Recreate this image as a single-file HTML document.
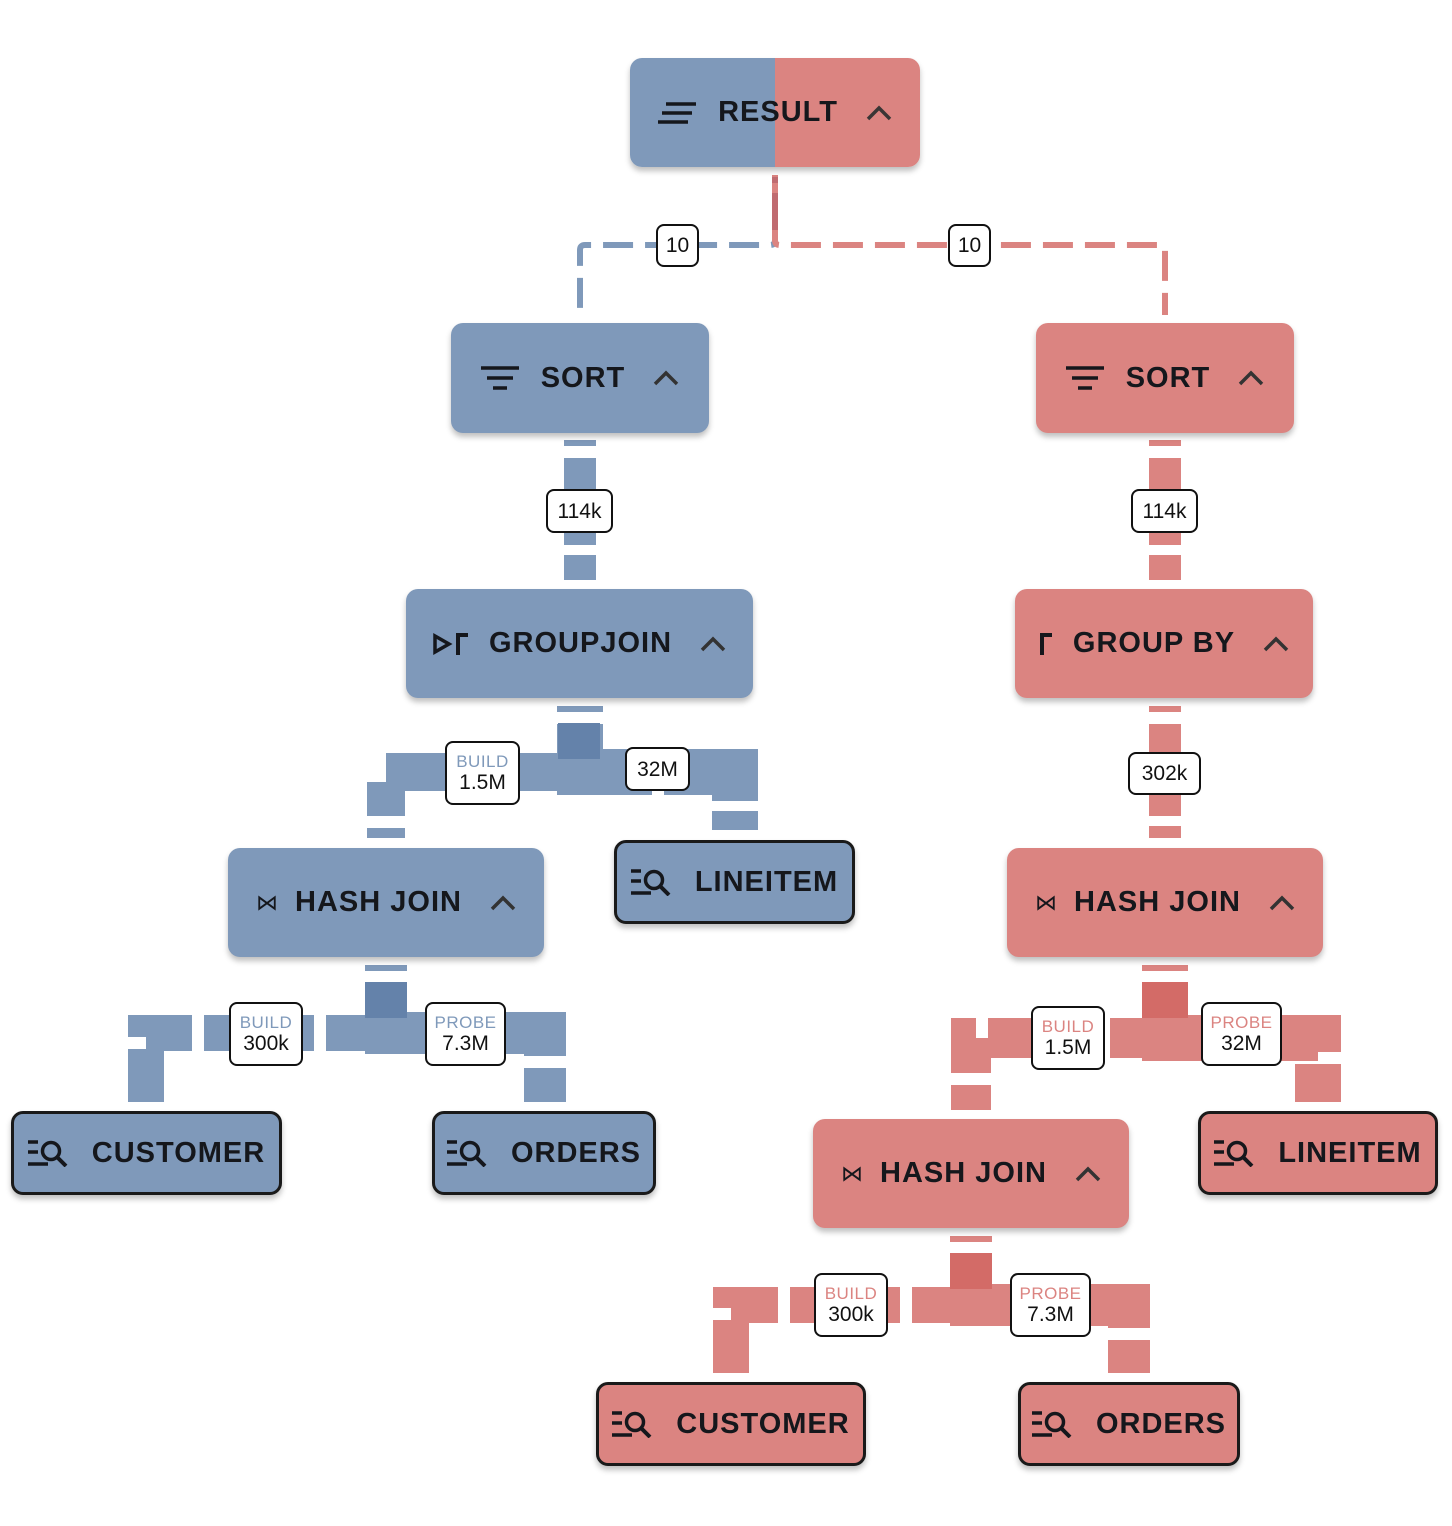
<!DOCTYPE html>
<html><head><meta charset="utf-8"><style>
html,body{margin:0;padding:0;background:#fff;}
body{width:1452px;height:1526px;position:relative;overflow:hidden;font-family:"Liberation Sans",sans-serif;}
.n{position:absolute;box-sizing:border-box;border-radius:12px;display:flex;align-items:center;justify-content:center;font-weight:bold;font-size:29px;color:#15171c;letter-spacing:1px;box-shadow:0 4px 6px rgba(0,0,0,0.25);}
.b{background:#7f99ba;}
.r{background:#db8481;}
.s{border:3px solid #1a1a1a;}
.n svg{margin-right:20px;fill:none;}
.n .ch{margin-left:28px;margin-right:0;}
.l{position:absolute;box-sizing:border-box;background:#fff;border:2px solid #111;border-radius:8px;display:flex;flex-direction:column;align-items:center;justify-content:center;font-size:21px;color:#111;line-height:23px;}
.l small{font-size:17px;line-height:18px;letter-spacing:0.5px;}
.lb small{color:#7f99ba}.lr small{color:#db8481}
svg.e{position:absolute;left:0;top:0;}
</style></head><body>
<svg class="e" width="1452" height="1526" viewBox="0 0 1452 1526" fill="none" stroke-linecap="butt">
<path d="M775,175 V240 Q775,245 770,245 H585 Q580,245 580,250 V315" stroke="#7f99ba" stroke-width="6" stroke-dasharray="30 12"/>
<path d="M775,175 V240 Q775,245 780,245 H1160 Q1165,245 1165,250 V315" stroke="#db8481" stroke-width="6" stroke-dasharray="30 12"/>
<path d="M775,177 V230" stroke="#c06b70" stroke-width="6" stroke-dasharray="6 10 40"/>
<path d="M580,440 V580" stroke="#7f99ba" stroke-width="32" stroke-dasharray="6 12 87 10 200"/>
<path d="M1165,440 V580" stroke="#db8481" stroke-width="32" stroke-dasharray="6 12 87 10 200"/>
<path d="M1165,706 V838" stroke="#db8481" stroke-width="32" stroke-dasharray="6 12 92 10 200"/>
<path d="M580,706 V772 H386 V838" stroke="#7f99ba" stroke-width="38" stroke-dasharray="6 12 110 12 120 10 34 12 200"/>
<path d="M580,706 V772 H735 V830" stroke="#7f99ba" stroke-width="46" stroke-dasharray="6 12 120 12 100 10 200"/>
<rect x="558" y="723" width="42" height="36" fill="#6482aa"/>
<path d="M386,965 V1033 H146 V1102" stroke="#7f99ba" stroke-width="36" stroke-dasharray="6 12 110 12 110 12 50 12 200"/>
<path d="M386,965 V1033 H545 V1102" stroke="#7f99ba" stroke-width="42" stroke-dasharray="6 12 120 12 100 12 200"/>
<rect x="365" y="982" width="42" height="36" fill="#6482aa"/>
<path d="M1165,965 V1038 H971 V1110" stroke="#db8481" stroke-width="40" stroke-dasharray="6 12 110 12 110 12 40 12 200"/>
<path d="M1165,965 V1038 H1318 V1102" stroke="#db8481" stroke-width="46" stroke-dasharray="6 12 110 12 100 12 200"/>
<rect x="1142" y="982" width="46" height="36" fill="#d36b67"/>
<path d="M971,1236 V1305 H731 V1373" stroke="#db8481" stroke-width="36" stroke-dasharray="6 12 110 12 110 12 50 12 200"/>
<path d="M971,1236 V1305 H1129 V1373" stroke="#db8481" stroke-width="42" stroke-dasharray="6 12 120 12 100 12 200"/>
<rect x="950" y="1253" width="42" height="36" fill="#d36b67"/>
</svg>

<div class="n" style="left:630px;top:58px;width:290px;height:109px;background:linear-gradient(90deg,#7f99ba 0,#7f99ba 145px,#db8481 145px);">
<svg width="40" height="24" viewBox="0 0 40 24"><path d="M8 3H38M4 12H34M0 21H30" stroke="#15171c" stroke-width="3.5"/></svg>RESULT<svg class="ch" width="26" height="16" viewBox="0 0 26 16"><path d="M2 14L13 3L24 14" stroke="#3a3535" stroke-width="3.5"/></svg></div>

<div class="n b" style="left:451px;top:323px;width:258px;height:110px;"><svg width="40" height="26" viewBox="0 0 40 26"><path d="M0 3H38M6 13H32M12 23H26" stroke="#15171c" stroke-width="3.5"/></svg>SORT<svg class="ch" width="26" height="16" viewBox="0 0 26 16"><path d="M2 14L13 3L24 14" stroke="#333" stroke-width="3.5"/></svg></div>
<div class="n r" style="left:1036px;top:323px;width:258px;height:110px;"><svg width="40" height="26" viewBox="0 0 40 26"><path d="M0 3H38M6 13H32M12 23H26" stroke="#15171c" stroke-width="3.5"/></svg>SORT<svg class="ch" width="26" height="16" viewBox="0 0 26 16"><path d="M2 14L13 3L24 14" stroke="#333" stroke-width="3.5"/></svg></div>

<div class="n b" style="left:406px;top:589px;width:347px;height:109px;"><svg width="36" height="22" viewBox="0 0 36 22"><path d="M2 3L16 11L2 19Z" stroke="#15171c" stroke-width="3.5"/><path d="M25 22V2H35" stroke="#15171c" stroke-width="4"/></svg>GROUPJOIN<svg class="ch" width="26" height="16" viewBox="0 0 26 16"><path d="M2 14L13 3L24 14" stroke="#333" stroke-width="3.5"/></svg></div>
<div class="n r" style="left:1015px;top:589px;width:298px;height:109px;"><svg width="14" height="22" viewBox="0 0 14 22"><path d="M3 22V2H13" stroke="#15171c" stroke-width="4"/></svg>GROUP BY<svg class="ch" width="26" height="16" viewBox="0 0 26 16"><path d="M2 14L13 3L24 14" stroke="#333" stroke-width="3.5"/></svg></div>

<div class="n b" style="left:228px;top:848px;width:316px;height:109px;"><span style="font-size:22px;font-weight:normal;margin-right:16px">⋈</span>HASH JOIN<svg class="ch" width="26" height="16" viewBox="0 0 26 16"><path d="M2 14L13 3L24 14" stroke="#333" stroke-width="3.5"/></svg></div>
<div class="n r" style="left:1007px;top:848px;width:316px;height:109px;"><span style="font-size:22px;font-weight:normal;margin-right:16px">⋈</span>HASH JOIN<svg class="ch" width="26" height="16" viewBox="0 0 26 16"><path d="M2 14L13 3L24 14" stroke="#333" stroke-width="3.5"/></svg></div>
<div class="n r" style="left:813px;top:1119px;width:316px;height:109px;"><span style="font-size:22px;font-weight:normal;margin-right:16px">⋈</span>HASH JOIN<svg class="ch" width="26" height="16" viewBox="0 0 26 16"><path d="M2 14L13 3L24 14" stroke="#333" stroke-width="3.5"/></svg></div>

<div class="n b s" style="left:614px;top:840px;width:241px;height:84px;"><svg width="44" height="28" viewBox="0 0 44 28"><path d="M0 3H10M0 13H10M0 25H20" stroke="#15171c" stroke-width="3.5"/><circle cx="23" cy="12" r="8.5" stroke="#15171c" stroke-width="3.5" fill="none"/><path d="M29 18L38 27" stroke="#15171c" stroke-width="4"/></svg>LINEITEM</div>
<div class="n r s" style="left:1198px;top:1111px;width:240px;height:84px;"><svg width="44" height="28" viewBox="0 0 44 28"><path d="M0 3H10M0 13H10M0 25H20" stroke="#15171c" stroke-width="3.5"/><circle cx="23" cy="12" r="8.5" stroke="#15171c" stroke-width="3.5" fill="none"/><path d="M29 18L38 27" stroke="#15171c" stroke-width="4"/></svg>LINEITEM</div>
<div class="n b s" style="left:11px;top:1111px;width:271px;height:84px;"><svg width="44" height="28" viewBox="0 0 44 28"><path d="M0 3H10M0 13H10M0 25H20" stroke="#15171c" stroke-width="3.5"/><circle cx="23" cy="12" r="8.5" stroke="#15171c" stroke-width="3.5" fill="none"/><path d="M29 18L38 27" stroke="#15171c" stroke-width="4"/></svg>CUSTOMER</div>
<div class="n b s" style="left:432px;top:1111px;width:224px;height:84px;"><svg width="44" height="28" viewBox="0 0 44 28"><path d="M0 3H10M0 13H10M0 25H20" stroke="#15171c" stroke-width="3.5"/><circle cx="23" cy="12" r="8.5" stroke="#15171c" stroke-width="3.5" fill="none"/><path d="M29 18L38 27" stroke="#15171c" stroke-width="4"/></svg>ORDERS</div>
<div class="n r s" style="left:596px;top:1382px;width:270px;height:84px;"><svg width="44" height="28" viewBox="0 0 44 28"><path d="M0 3H10M0 13H10M0 25H20" stroke="#15171c" stroke-width="3.5"/><circle cx="23" cy="12" r="8.5" stroke="#15171c" stroke-width="3.5" fill="none"/><path d="M29 18L38 27" stroke="#15171c" stroke-width="4"/></svg>CUSTOMER</div>
<div class="n r s" style="left:1018px;top:1382px;width:222px;height:84px;"><svg width="44" height="28" viewBox="0 0 44 28"><path d="M0 3H10M0 13H10M0 25H20" stroke="#15171c" stroke-width="3.5"/><circle cx="23" cy="12" r="8.5" stroke="#15171c" stroke-width="3.5" fill="none"/><path d="M29 18L38 27" stroke="#15171c" stroke-width="4"/></svg>ORDERS</div>

<div class="l" style="left:656px;top:224px;width:43px;height:43px;">10</div>
<div class="l" style="left:948px;top:224px;width:43px;height:43px;">10</div>
<div class="l" style="left:546px;top:489px;width:67px;height:44px;">114k</div>
<div class="l" style="left:1131px;top:489px;width:67px;height:44px;">114k</div>
<div class="l" style="left:1128px;top:752px;width:73px;height:43px;">302k</div>
<div class="l" style="left:625px;top:747px;width:65px;height:44px;">32M</div>
<div class="l lb" style="left:445px;top:741px;width:75px;height:64px;"><small>BUILD</small>1.5M</div>
<div class="l lb" style="left:229px;top:1002px;width:74px;height:64px;"><small>BUILD</small>300k</div>
<div class="l lb" style="left:425px;top:1002px;width:81px;height:64px;"><small>PROBE</small>7.3M</div>
<div class="l lr" style="left:1031px;top:1006px;width:74px;height:64px;"><small>BUILD</small>1.5M</div>
<div class="l lr" style="left:1201px;top:1002px;width:81px;height:64px;"><small>PROBE</small>32M</div>
<div class="l lr" style="left:814px;top:1273px;width:74px;height:64px;"><small>BUILD</small>300k</div>
<div class="l lr" style="left:1010px;top:1273px;width:81px;height:64px;"><small>PROBE</small>7.3M</div>
</body></html>
